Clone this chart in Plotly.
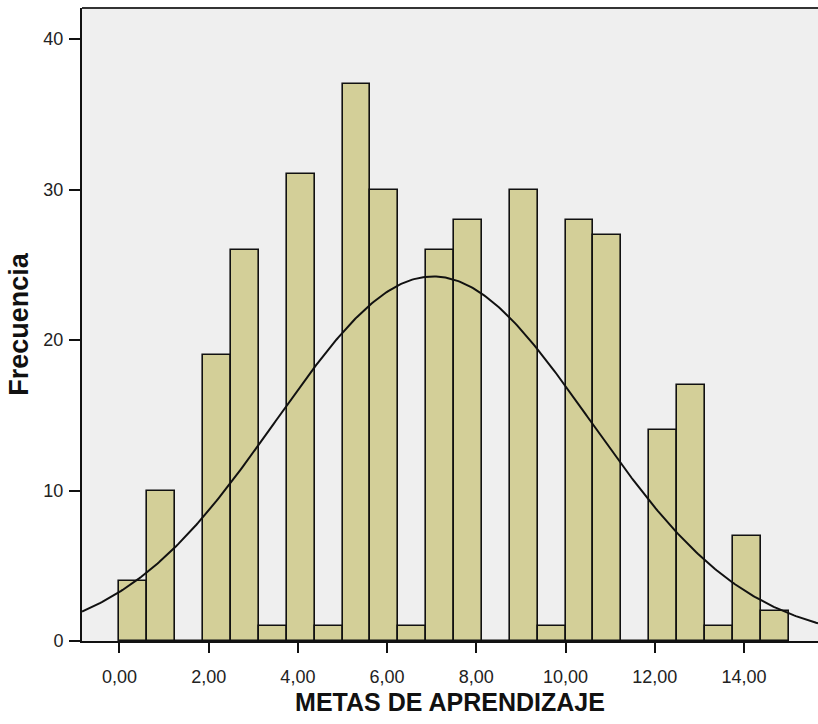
import numpy as np
import plotly.graph_objects as go

# Histogram bins (width 0.625, from 0 to 15) and their frequencies
bin_start = 0.0
bin_width = 0.625
counts = [4, 10, 0, 19, 26, 1, 31, 1, 37, 30, 1, 26, 28, 0, 30, 1, 28, 27, 0, 14, 17, 1, 7, 2]

# Fitted normal curve parameters
mean_val = 7.03
sd_val = 3.51

x_tickvals = [0, 2, 4, 6, 8, 10, 12, 14]
x_ticktext = ["0,00", "2,00", "4,00", "6,00", "8,00", "10,00", "12,00", "14,00"]
y_tickvals = [0, 10, 20, 30, 40]

x_range = [-0.84, 15.66]
y_range = [0, 42.06]

centers = [bin_start + bin_width * (i + 0.5) for i in range(len(counts))]
n_total = sum(counts)

xs = np.linspace(x_range[0], x_range[1], 400)
ys = n_total * bin_width / (sd_val * np.sqrt(2 * np.pi)) * np.exp(-0.5 * ((xs - mean_val) / sd_val) ** 2)

fig = go.Figure()
fig.add_trace(go.Bar(
    x=centers, y=counts, width=bin_width,
    marker=dict(color="#d3cf98", line=dict(color="#111111", width=1.6)),
    hoverinfo="x+y",
))
fig.add_trace(go.Scatter(
    x=xs, y=ys, mode="lines",
    line=dict(color="#111111", width=2),
    hoverinfo="skip",
))

fig.update_layout(
    width=818, height=724,
    margin=dict(l=82, r=0, t=8, b=83),
    paper_bgcolor="white",
    plot_bgcolor="#efefef",
    showlegend=False,
    bargap=0,
    font=dict(family="Liberation Sans, Arial, sans-serif", color="#222222"),
    xaxis=dict(
        range=x_range, tickvals=x_tickvals, ticktext=x_ticktext,
        showgrid=False, zeroline=False,
        showline=True, linecolor="#111111", linewidth=2,
        ticks="outside", ticklen=10, tickwidth=2, tickcolor="#111111",
        tickfont=dict(size=18), ticklabelstandoff=8,
        title=dict(text="<b>METAS DE APRENDIZAJE</b>", font=dict(size=25, color="#111111"), standoff=8),
    ),
    yaxis=dict(
        range=y_range, tickvals=y_tickvals,
        showgrid=False, zeroline=False,
        showline=True, linecolor="#111111", linewidth=2,
        ticks="outside", ticklen=11, tickwidth=2, tickcolor="#111111",
        tickfont=dict(size=18), ticklabelstandoff=2,
        title=dict(text="<b>Frecuencia</b>", font=dict(size=27, color="#111111"), standoff=7),
    ),
    shapes=[dict(type="line", xref="paper", yref="paper", x0=0, x1=1, y0=1, y1=1,
                 line=dict(color="#333333", width=2))],
)

fig.write_html("out.html")
